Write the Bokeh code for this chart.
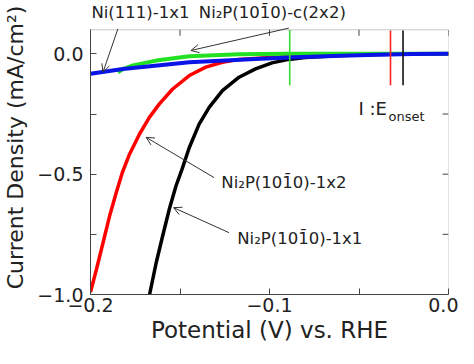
from bokeh.plotting import figure
from bokeh.models import FixedTicker, Range1d, Label, Arrow, OpenHead, BoxAnnotation
from bokeh.embed import file_html
from bokeh.resources import INLINE

# ---- data ----
red_x = [-0.2, -0.1967, -0.193, -0.1893, -0.1856, -0.1822, -0.1782, -0.1726, -0.1671,
         -0.1615, -0.1541, -0.1448, -0.1356, -0.1263, -0.117, -0.10, -0.08, -0.06,
         -0.04, -0.02, 0.0]
red_y = [-0.99, -0.896, -0.785, -0.673, -0.576, -0.493, -0.417, -0.333, -0.264,
         -0.208, -0.146, -0.090, -0.055, -0.035, -0.023, -0.015, -0.009, -0.005,
         -0.002, -0.001, 0.0]

black_x = [-0.167, -0.1633, -0.1597, -0.156, -0.1522, -0.1488, -0.1448, -0.1393,
           -0.1337, -0.1263, -0.117, -0.1078, -0.0986, -0.0893, -0.08, -0.06, -0.04,
           -0.02, 0.0]
black_y = [-1.0, -0.868, -0.757, -0.646, -0.548, -0.478, -0.389, -0.292,
           -0.222, -0.153, -0.097, -0.0625, -0.0375, -0.023, -0.015, -0.007, -0.003,
           -0.001, 0.0]

green_x = [-0.1847, -0.1815, -0.1763, -0.1633, -0.1448, -0.117, -0.09, -0.05, 0.0]
green_y = [-0.076, -0.062, -0.048, -0.028, -0.010, -0.002, 0.0, 0.0, 0.0]

blue_x = [-0.2, -0.1819, -0.1448, -0.1078, -0.0856, -0.06, -0.04, -0.02, 0.0]
blue_y = [-0.083, -0.0625, -0.035, -0.021, -0.014, -0.008, -0.004, -0.001, 0.0]

onset_x = [-0.0887, -0.0324, -0.0254]
onset_colors = ["#33dd33", "#ff2222", "#111111"]
onset_top = [0.099, 0.097, 0.097]
onset_bottom = [-0.13, -0.13, -0.13]

x_min, x_max = -0.2, 0.0
y_min, y_max = -1.0, 0.1
x_ticks = [-0.2, -0.1, 0.0]
x_minor = [-0.15, -0.05]
x_tick_labels = {-0.2: "\u22120.2", -0.1: "\u22120.1", 0.0: "0.0"}
y_ticks = [-1.0, -0.5, 0.0]
y_minor = [-0.75, -0.25]
y_tick_labels = {-1.0: "\u22121.0", -0.5: "\u22120.5", 0.0: "0.0"}

OVL = "1\u0304"  # 1 with overbar
labels = [
    ("Ni(111)-1x1", -0.1995, 0.172),
    ("Ni\u2082P(10" + OVL + "0)-c(2x2)", -0.1395, 0.172),
    ("Ni\u2082P(10" + OVL + "0)-1x2", -0.1269, -0.535),
    ("Ni\u2082P(10" + OVL + "0)-1x1", -0.118, -0.768),
]
arrows = [  # (x_start, y_start, x_end, y_end)
    (-0.1847, 0.104, -0.193, -0.076),
    (-0.0892, 0.107, -0.1439, 0.014),
    (-0.131, -0.514, -0.1689, -0.347),
    (-0.1226, -0.743, -0.1536, -0.639),
]

FONT = "DejaVu Sans"
TXT = "#222222"
FRAME = "#444444"

W, H = 458, 348
LEFT, RIGHT = 88, 10
TOP_PAD = 29.3     # px between figure top and the visible box top
BOTTOM = 54        # px for x axis
TICK = 6           # tick length px
frame_h = H - BOTTOM
px_per_y = (frame_h - TOP_PAD) / (y_max - y_min)
y_view_top = y_max + TOP_PAD / px_per_y   # room inside the frame for the top labels

p = figure(width=W, height=H, output_backend="svg", toolbar_location=None,
           x_range=Range1d(x_min, x_max), y_range=Range1d(y_min, y_view_top),
           min_border_left=LEFT, min_border_right=RIGHT, min_border_top=0,
           min_border_bottom=BOTTOM, x_axis_label="Potential (V) vs. RHE",
           y_axis_label="Current Density (mA/cm\u00b2)")
p.xgrid.visible = False
p.ygrid.visible = False
p.outline_line_color = None
p.background_fill_color = "white"
p.border_fill_color = "white"

for ax, ticks, minor, ov in ((p.xaxis[0], x_ticks, x_minor, x_tick_labels),
                             (p.yaxis[0], y_ticks, y_minor, y_tick_labels)):
    ax.ticker = FixedTicker(ticks=ticks, minor_ticks=minor)
    ax.major_label_overrides = ov
    ax.axis_line_color = FRAME
    ax.major_tick_line_color = FRAME
    ax.minor_tick_line_color = FRAME
    ax.major_tick_in = TICK
    ax.major_tick_out = 0
    ax.minor_tick_in = TICK
    ax.minor_tick_out = 0
    ax.major_label_text_font = FONT
    ax.major_label_text_color = TXT
    ax.major_label_text_font_size = "19px"
    ax.axis_label_text_font = FONT
    ax.axis_label_text_font_style = "normal"
    ax.axis_label_text_color = TXT
p.xaxis[0].axis_label_text_font_size = "23px"
p.yaxis[0].axis_label_text_font_size = "22px"
p.yaxis[0].bounds = (y_min, y_max)
p.xaxis[0].major_label_standoff = 3
p.yaxis[0].major_label_standoff = 7
p.xaxis[0].axis_label_standoff = 2
p.yaxis[0].axis_label_standoff = 6

# visible plot box (top and right sides + mirrored ticks)
p.add_layout(BoxAnnotation(left=x_min, right=x_max, bottom=y_min, top=y_max,
                           fill_color=None, line_color=FRAME, line_width=1))
all_x = x_ticks + x_minor
all_y = y_ticks + y_minor
tick_dy = TICK / px_per_y
tick_dx = TICK * (x_max - x_min) / (W - LEFT - RIGHT)
p.segment(x0=all_x, y0=[y_max] * len(all_x), x1=all_x, y1=[y_max - tick_dy] * len(all_x),
          line_color=FRAME, line_width=1)
p.segment(x0=[x_max] * len(all_y), y0=all_y, x1=[x_max - tick_dx] * len(all_y), y1=all_y,
          line_color=FRAME, line_width=1)

# curves
p.line(black_x, black_y, line_color="#000000", line_width=3.5)
p.line(red_x, red_y, line_color="#ff0000", line_width=3.5)
p.line(green_x, green_y, line_color="#22e022", line_width=4)
p.line(blue_x, blue_y, line_color="#0a14e6", line_width=4)

# onset markers
p.segment(x0=onset_x, y0=onset_top, x1=onset_x, y1=onset_bottom,
          line_color=onset_colors, line_width=1.6)

# annotations
for txt, x, y in labels:
    p.add_layout(Label(x=x, y=y, text=txt, text_font=FONT, text_font_size="16.5px",
                       text_color=TXT, text_baseline="middle", text_align="left"))
for xs, ys, xe, ye in arrows:
    p.add_layout(Arrow(end=OpenHead(size=8, line_width=1, line_color="#333333"),
                       x_start=xs, y_start=ys, x_end=xe, y_end=ye,
                       line_width=1, line_color="#333333"))

# onset legend text
p.add_layout(Label(x=-0.0503, y=-0.228, text="I :E", text_font=FONT,
                   text_font_size="18px", text_color=TXT,
                   text_baseline="middle", text_align="left"))
p.add_layout(Label(x=-0.0335, y=-0.262, text="onset", text_font=FONT,
                   text_font_size="13px", text_color=TXT,
                   text_baseline="middle", text_align="left"))

open("out.html", "w").write(file_html(p, INLINE))
